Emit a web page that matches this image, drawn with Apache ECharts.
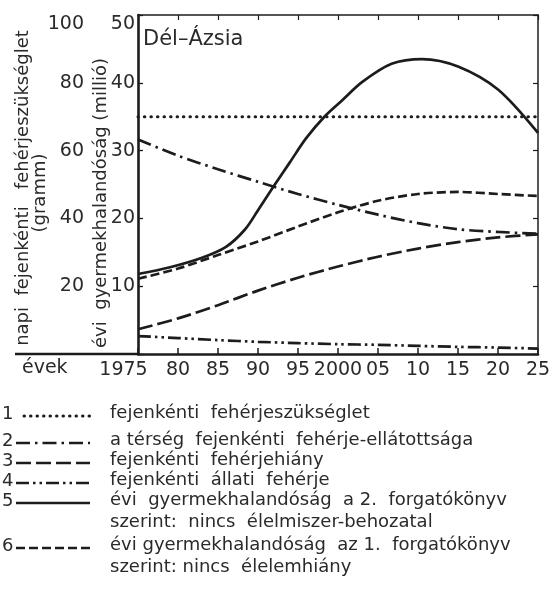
<!DOCTYPE html>
<html>
<head>
<meta charset="utf-8">
<script src="https://cdn.jsdelivr.net/npm/echarts@6/dist/echarts.min.js"></script>
<style>
  html, body { margin: 0; padding: 0; background: #fff; }
  #chart { width: 554px; height: 603px; }
</style>
</head>
<body>
<div id="chart"></div>
<script>
// évek (5 évenként)
const years = [1975, 1980, 1985, 1990, 1995, 2000, 2005, 2010, 2015, 2020, 2025];

// fehérje, gramm / fő / nap
const need    = [70, 70, 70, 70, 70, 70, 70, 70, 70, 70, 70];
const supply  = [63.3, 58.5, 54.5, 50.8, 47.2, 44.0, 41.1, 38.6, 36.8, 36.0, 35.5];
const deficit = [7.3, 10.5, 14.4, 18.7, 22.5, 25.8, 28.7, 31.1, 33.0, 34.4, 35.3];
const animal  = [5.3, 4.7, 4.1, 3.6, 3.2, 2.9, 2.7, 2.4, 2.1, 1.9, 1.6];

// évi gyermekhalandóság, millió
const scen1 = [11.1, 12.6, 14.6, 16.6, 18.8, 20.9, 22.6, 23.6, 23.9, 23.6, 23.3];
const scen2Years = [1975, 1979, 1983, 1986, 1988.4, 1990, 1992, 1994, 1996, 1998.3, 2000.5, 2003, 2006.7, 2010.5, 2015, 2020, 2025];
const scen2      = [11.8, 12.8, 14.2, 15.8, 18.4, 21.2, 24.8, 28.3, 31.8, 35.0, 37.4, 40.1, 42.8, 43.5, 42.4, 39.0, 32.6];

// tengelyfeliratok
const yearLabels    = ['1975', '80', '85', '90', '95', '2000', '05', '10', '15', '20', '25'];
const gramLabels    = ['', '20', '40', '60', '80', '100'];
const millionLabels = ['', '10', '20', '30', '40', '50'];

const FONT = 'DejaVu Sans';
const INK = '#1c1c1c';
const TXT = '#2a2a2a';

// vonaltípusok: 1 pontozott, 2 pont-vonal, 3 hosszú szaggatott, 4 két pont-vonal, 5 folytonos, 6 rövid szaggatott
const dashes = [[0.5, 6], [14, 5, 2.5, 5], [15, 5], [13, 4, 2.5, 4, 2.5, 4], 'solid', [9, 4]];

const legendRows = [
  { num: '1', lines: ['fejenkénti  fehérjeszükséglet'] },
  { num: '2', lines: ['a térség  fejenkénti  fehérje-ellátottsága'] },
  { num: '3', lines: ['fejenkénti  fehérjehiány'] },
  { num: '4', lines: ['fejenkénti  állati  fehérje'] },
  { num: '5', lines: ['évi  gyermekhalandóság  a 2.  forgatókönyv', 'szerint:  nincs  élelmiszer-behozatal'] },
  { num: '6', lines: ['évi gyermekhalandóság  az 1.  forgatókönyv', 'szerint: nincs  élelemhiány'] }
];

const pairs = (xs, ys) => xs.map((x, i) => [x, ys[i]]);

function lineSeries(name, yAxisIndex, data, dash) {
  const dotted = dash === dashes[0];
  return {
    name: name,
    type: 'line',
    xAxisIndex: 0,
    yAxisIndex: yAxisIndex,
    data: data,
    showSymbol: false,
    smooth: 0.3,
    silent: true,
    lineStyle: { color: INK, width: dotted ? 3 : 2.7, type: dash, cap: dotted ? 'round' : 'butt' }
  };
}

// jelmagyarázat (graphic elemekből)
const legendGraphic = [];
const rowY = [415, 442, 462, 482, 502, 547];
legendRows.forEach((row, i) => {
  const y = rowY[i];
  legendGraphic.push({
    type: 'text', left: 2, top: y - 10,
    style: { text: row.num, font: '18px "' + FONT + '"', fill: TXT }
  });
  legendGraphic.push({
    type: 'line',
    shape: { x1: i === 0 ? 24 : 16, y1: y + 1, x2: 90, y2: y + 1 },
    style: { stroke: INK, lineWidth: i === 0 ? 3 : 2.7, lineDash: dashes[i] === 'solid' ? null : dashes[i], lineCap: i === 0 ? 'round' : 'butt' }
  });
  row.lines.forEach((t, j) => {
    legendGraphic.push({
      type: 'text', left: 110, top: y - 11 + j * 22,
      style: { text: t, font: '18px "' + FONT + '"', fill: TXT }
    });
  });
});

const chart = echarts.init(document.getElementById('chart'), null, { renderer: 'canvas' });

chart.setOption({
  backgroundColor: '#fff',
  animation: false,
  textStyle: { fontFamily: FONT, color: TXT },
  grid: { left: 138, right: 16, top: 15, bottom: 249, containLabel: false },
  xAxis: [
    {
      type: 'value', position: 'bottom', min: 1975, max: 2025, interval: 5,
      axisLine: { show: true, onZero: false, lineStyle: { color: INK, width: 2.5 } },
      axisTick: { show: true, inside: true, length: 6, lineStyle: { color: INK, width: 1.5 } },
      splitLine: { show: false },
      axisLabel: {
        color: TXT, fontFamily: FONT, fontSize: 19, margin: 7,
        formatter: v => {
          const i = Math.round((v - 1975) / 5);
          return i === 0 ? '{f|' + yearLabels[0] + '}' : yearLabels[i];
        },
        rich: { f: { fontFamily: FONT, fontSize: 19, color: TXT, padding: [0, 29, 0, 0] } }
      }
    },
    {
      type: 'value', position: 'top', min: 1975, max: 2025, interval: 5,
      axisLine: { show: true, onZero: false, lineStyle: { color: INK, width: 1.5 } },
      axisTick: { show: true, inside: true, length: 5, lineStyle: { color: INK, width: 1.2 } },
      axisLabel: { show: false },
      splitLine: { show: false }
    }
  ],
  yAxis: [
    {
      // millió
      type: 'value', position: 'left', min: 0, max: 50, interval: 10,
      axisLine: { show: true, onZero: false, lineStyle: { color: INK, width: 2.6 } },
      axisTick: { show: true, inside: true, length: 5, lineStyle: { color: INK, width: 1.3 } },
      splitLine: { show: false },
      axisLabel: {
        color: TXT, fontFamily: FONT, fontSize: 19, margin: 3,
        verticalAlignMaxLabel: 'top',
        formatter: v => millionLabels[Math.round(v / 10)]
      }
    },
    {
      // gramm
      type: 'value', position: 'left', offset: 50, min: 0, max: 100, interval: 20,
      axisLine: { show: false },
      axisTick: { show: false },
      splitLine: { show: false },
      axisLabel: {
        color: TXT, fontFamily: FONT, fontSize: 19, margin: 4,
        verticalAlignMaxLabel: 'top',
        formatter: v => gramLabels[Math.round(v / 20)]
      }
    },
    {
      type: 'value', position: 'right', min: 0, max: 50, interval: 10,
      axisLine: { show: true, onZero: false, lineStyle: { color: INK, width: 1.5 } },
      axisTick: { show: true, inside: true, length: 5, lineStyle: { color: INK, width: 1.2 } },
      axisLabel: { show: false },
      splitLine: { show: false }
    }
  ],
  series: [
    lineSeries(legendRows[0].lines[0], 1, pairs(years, need), dashes[0]),
    lineSeries(legendRows[1].lines[0], 1, pairs(years, supply), dashes[1]),
    lineSeries(legendRows[2].lines[0], 1, pairs(years, deficit), dashes[2]),
    lineSeries(legendRows[3].lines[0], 1, pairs(years, animal), dashes[3]),
    lineSeries('évi gyermekhalandóság, 2. forgatókönyv', 0, pairs(scen2Years, scen2), dashes[4]),
    lineSeries('évi gyermekhalandóság, 1. forgatókönyv', 0, pairs(years, scen1), dashes[5])
  ],
  graphic: [
    // alsó tengelyvonal balra kinyúló része
    { type: 'line', shape: { x1: 15, y1: 354, x2: 138, y2: 354 }, style: { stroke: INK, lineWidth: 2.5 } },
    { type: 'text', left: 22, top: 359, style: { text: 'évek', font: '19px "' + FONT + '"', fill: TXT } },
    { type: 'text', left: 143, top: 29, style: { text: 'Dél–Ázsia', font: '21px "' + FONT + '"', fill: TXT } },
    {
      type: 'text', x: 23, y: 188, rotation: Math.PI / 2,
      style: { text: 'napi  fejenkénti   fehérjeszükséglet', font: '18px "' + FONT + '"', fill: TXT, align: 'center', verticalAlign: 'middle' }
    },
    {
      type: 'text', x: 40, y: 193, rotation: Math.PI / 2,
      style: { text: '(gramm)', font: '18px "' + FONT + '"', fill: TXT, align: 'center', verticalAlign: 'middle' }
    },
    {
      type: 'text', x: 101, y: 203, rotation: Math.PI / 2,
      style: { text: 'évi  gyermekhalandóság (millió)', font: '18px "' + FONT + '"', fill: TXT, align: 'center', verticalAlign: 'middle' }
    }
  ].concat(legendGraphic)
});
</script>
</body>
</html>
